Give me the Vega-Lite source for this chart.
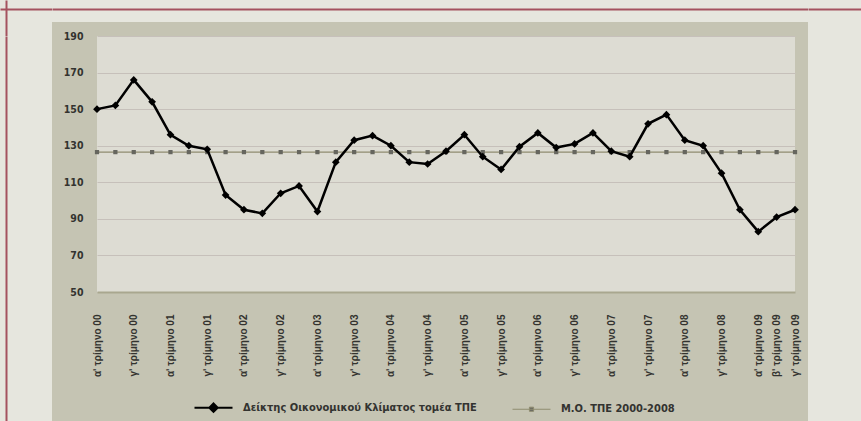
{
  "$schema": "https://vega.github.io/schema/vega-lite/v6.json",
  "background": "#c5c4b3",
  "padding": 0,
  "spacing": -5,
  "config": {
    "view": {"stroke": null},
    "font": "DejaVu Sans Condensed, sans-serif"
  },
  "vconcat": [
    {
      "spacing": 0,
      "hconcat": [
        {
          "data": {"values": []},
          "mark": "point",
          "width": 52,
          "height": 36,
          "view": {"fill": "#e6e6de", "stroke": null},
          "encoding": {
            "x": {"field": "a", "type": "quantitative", "scale": {"domain": [0, 1]}, "axis": {"orient": "top", "offset": -9, "domainColor": "#a4525f", "domainWidth": 2, "labels": false, "ticks": false, "grid": false, "title": null}},
            "y": {"field": "b", "type": "quantitative", "scale": {"domain": [0, 1]}, "axis": {"orient": "left", "offset": -6, "domainColor": "#a4525f", "domainWidth": 2, "labels": false, "ticks": false, "grid": false, "title": null}}
          }
        },
        {
          "data": {"values": []},
          "mark": "point",
          "width": 756,
          "height": 22,
          "view": {"fill": "#e6e6de", "stroke": null},
          "encoding": {
            "x": {"field": "a", "type": "quantitative", "scale": {"domain": [0, 1]}, "axis": {"orient": "top", "offset": -9, "domainColor": "#a4525f", "domainWidth": 2, "labels": false, "ticks": false, "grid": false, "title": null}}
          }
        },
        {
          "data": {"values": []},
          "mark": "point",
          "width": 53,
          "height": 36,
          "view": {"fill": "#e6e6de", "stroke": null},
          "encoding": {
            "x": {"field": "a", "type": "quantitative", "scale": {"domain": [0, 1]}, "axis": {"orient": "top", "offset": -9, "domainColor": "#a4525f", "domainWidth": 2, "labels": false, "ticks": false, "grid": false, "title": null}}
          }
        }
      ]
    },
    {
      "spacing": 8,
      "hconcat": [
        {
          "data": {"values": []},
          "mark": "point",
          "width": 52,
          "height": 385,
          "view": {"fill": "#e6e6de", "stroke": null},
          "encoding": {
            "y": {"field": "b", "type": "quantitative", "scale": {"domain": [0, 1]}, "axis": {"orient": "left", "offset": -6, "domainColor": "#a4525f", "domainWidth": 2, "labels": false, "ticks": false, "grid": false, "title": null}}
          }
        },
        {
          "width": 698,
          "height": 256,
          "view": {"fill": "#dddcd3", "stroke": null},
          "data": {
            "values": [
              {"q": "αʹ τρίμηνο 00", "s": "Δείκτης Οικονομικού Κλίματος τομέα ΤΠΕ", "v": 150},
              {"q": "βʹ τρίμηνο 00", "s": "Δείκτης Οικονομικού Κλίματος τομέα ΤΠΕ", "v": 152},
              {"q": "γʹ τρίμηνο 00", "s": "Δείκτης Οικονομικού Κλίματος τομέα ΤΠΕ", "v": 166},
              {"q": "δʹ τρίμηνο 00", "s": "Δείκτης Οικονομικού Κλίματος τομέα ΤΠΕ", "v": 154},
              {"q": "αʹ τρίμηνο 01", "s": "Δείκτης Οικονομικού Κλίματος τομέα ΤΠΕ", "v": 136},
              {"q": "βʹ τρίμηνο 01", "s": "Δείκτης Οικονομικού Κλίματος τομέα ΤΠΕ", "v": 130},
              {"q": "γʹ τρίμηνο 01", "s": "Δείκτης Οικονομικού Κλίματος τομέα ΤΠΕ", "v": 128},
              {"q": "δʹ τρίμηνο 01", "s": "Δείκτης Οικονομικού Κλίματος τομέα ΤΠΕ", "v": 103},
              {"q": "αʹ τρίμηνο 02", "s": "Δείκτης Οικονομικού Κλίματος τομέα ΤΠΕ", "v": 95},
              {"q": "βʹ τρίμηνο 02", "s": "Δείκτης Οικονομικού Κλίματος τομέα ΤΠΕ", "v": 93},
              {"q": "γʹ τρίμηνο 02", "s": "Δείκτης Οικονομικού Κλίματος τομέα ΤΠΕ", "v": 104},
              {"q": "δʹ τρίμηνο 02", "s": "Δείκτης Οικονομικού Κλίματος τομέα ΤΠΕ", "v": 108},
              {"q": "αʹ τρίμηνο 03", "s": "Δείκτης Οικονομικού Κλίματος τομέα ΤΠΕ", "v": 94},
              {"q": "βʹ τρίμηνο 03", "s": "Δείκτης Οικονομικού Κλίματος τομέα ΤΠΕ", "v": 121},
              {"q": "γʹ τρίμηνο 03", "s": "Δείκτης Οικονομικού Κλίματος τομέα ΤΠΕ", "v": 133},
              {"q": "δʹ τρίμηνο 03", "s": "Δείκτης Οικονομικού Κλίματος τομέα ΤΠΕ", "v": 135.5},
              {"q": "αʹ τρίμηνο 04", "s": "Δείκτης Οικονομικού Κλίματος τομέα ΤΠΕ", "v": 130},
              {"q": "βʹ τρίμηνο 04", "s": "Δείκτης Οικονομικού Κλίματος τομέα ΤΠΕ", "v": 121},
              {"q": "γʹ τρίμηνο 04", "s": "Δείκτης Οικονομικού Κλίματος τομέα ΤΠΕ", "v": 120},
              {"q": "δʹ τρίμηνο 04", "s": "Δείκτης Οικονομικού Κλίματος τομέα ΤΠΕ", "v": 127},
              {"q": "αʹ τρίμηνο 05", "s": "Δείκτης Οικονομικού Κλίματος τομέα ΤΠΕ", "v": 136},
              {"q": "βʹ τρίμηνο 05", "s": "Δείκτης Οικονομικού Κλίματος τομέα ΤΠΕ", "v": 124},
              {"q": "γʹ τρίμηνο 05", "s": "Δείκτης Οικονομικού Κλίματος τομέα ΤΠΕ", "v": 117},
              {"q": "δʹ τρίμηνο 05", "s": "Δείκτης Οικονομικού Κλίματος τομέα ΤΠΕ", "v": 129.5},
              {"q": "αʹ τρίμηνο 06", "s": "Δείκτης Οικονομικού Κλίματος τομέα ΤΠΕ", "v": 137},
              {"q": "βʹ τρίμηνο 06", "s": "Δείκτης Οικονομικού Κλίματος τομέα ΤΠΕ", "v": 129},
              {"q": "γʹ τρίμηνο 06", "s": "Δείκτης Οικονομικού Κλίματος τομέα ΤΠΕ", "v": 131},
              {"q": "δʹ τρίμηνο 06", "s": "Δείκτης Οικονομικού Κλίματος τομέα ΤΠΕ", "v": 137},
              {"q": "αʹ τρίμηνο 07", "s": "Δείκτης Οικονομικού Κλίματος τομέα ΤΠΕ", "v": 127},
              {"q": "βʹ τρίμηνο 07", "s": "Δείκτης Οικονομικού Κλίματος τομέα ΤΠΕ", "v": 124},
              {"q": "γʹ τρίμηνο 07", "s": "Δείκτης Οικονομικού Κλίματος τομέα ΤΠΕ", "v": 142},
              {"q": "δʹ τρίμηνο 07", "s": "Δείκτης Οικονομικού Κλίματος τομέα ΤΠΕ", "v": 147},
              {"q": "αʹ τρίμηνο 08", "s": "Δείκτης Οικονομικού Κλίματος τομέα ΤΠΕ", "v": 133},
              {"q": "βʹ τρίμηνο 08", "s": "Δείκτης Οικονομικού Κλίματος τομέα ΤΠΕ", "v": 130},
              {"q": "γʹ τρίμηνο 08", "s": "Δείκτης Οικονομικού Κλίματος τομέα ΤΠΕ", "v": 115},
              {"q": "δʹ τρίμηνο 08", "s": "Δείκτης Οικονομικού Κλίματος τομέα ΤΠΕ", "v": 95},
              {"q": "αʹ τρίμηνο 09", "s": "Δείκτης Οικονομικού Κλίματος τομέα ΤΠΕ", "v": 83},
              {"q": "βʹ τρίμηνο 09", "s": "Δείκτης Οικονομικού Κλίματος τομέα ΤΠΕ", "v": 91},
              {"q": "γʹ τρίμηνο 09", "s": "Δείκτης Οικονομικού Κλίματος τομέα ΤΠΕ", "v": 95},
              {"q": "αʹ τρίμηνο 00", "s": "Μ.Ο. ΤΠΕ 2000-2008", "v": 126.5},
              {"q": "βʹ τρίμηνο 00", "s": "Μ.Ο. ΤΠΕ 2000-2008", "v": 126.5},
              {"q": "γʹ τρίμηνο 00", "s": "Μ.Ο. ΤΠΕ 2000-2008", "v": 126.5},
              {"q": "δʹ τρίμηνο 00", "s": "Μ.Ο. ΤΠΕ 2000-2008", "v": 126.5},
              {"q": "αʹ τρίμηνο 01", "s": "Μ.Ο. ΤΠΕ 2000-2008", "v": 126.5},
              {"q": "βʹ τρίμηνο 01", "s": "Μ.Ο. ΤΠΕ 2000-2008", "v": 126.5},
              {"q": "γʹ τρίμηνο 01", "s": "Μ.Ο. ΤΠΕ 2000-2008", "v": 126.5},
              {"q": "δʹ τρίμηνο 01", "s": "Μ.Ο. ΤΠΕ 2000-2008", "v": 126.5},
              {"q": "αʹ τρίμηνο 02", "s": "Μ.Ο. ΤΠΕ 2000-2008", "v": 126.5},
              {"q": "βʹ τρίμηνο 02", "s": "Μ.Ο. ΤΠΕ 2000-2008", "v": 126.5},
              {"q": "γʹ τρίμηνο 02", "s": "Μ.Ο. ΤΠΕ 2000-2008", "v": 126.5},
              {"q": "δʹ τρίμηνο 02", "s": "Μ.Ο. ΤΠΕ 2000-2008", "v": 126.5},
              {"q": "αʹ τρίμηνο 03", "s": "Μ.Ο. ΤΠΕ 2000-2008", "v": 126.5},
              {"q": "βʹ τρίμηνο 03", "s": "Μ.Ο. ΤΠΕ 2000-2008", "v": 126.5},
              {"q": "γʹ τρίμηνο 03", "s": "Μ.Ο. ΤΠΕ 2000-2008", "v": 126.5},
              {"q": "δʹ τρίμηνο 03", "s": "Μ.Ο. ΤΠΕ 2000-2008", "v": 126.5},
              {"q": "αʹ τρίμηνο 04", "s": "Μ.Ο. ΤΠΕ 2000-2008", "v": 126.5},
              {"q": "βʹ τρίμηνο 04", "s": "Μ.Ο. ΤΠΕ 2000-2008", "v": 126.5},
              {"q": "γʹ τρίμηνο 04", "s": "Μ.Ο. ΤΠΕ 2000-2008", "v": 126.5},
              {"q": "δʹ τρίμηνο 04", "s": "Μ.Ο. ΤΠΕ 2000-2008", "v": 126.5},
              {"q": "αʹ τρίμηνο 05", "s": "Μ.Ο. ΤΠΕ 2000-2008", "v": 126.5},
              {"q": "βʹ τρίμηνο 05", "s": "Μ.Ο. ΤΠΕ 2000-2008", "v": 126.5},
              {"q": "γʹ τρίμηνο 05", "s": "Μ.Ο. ΤΠΕ 2000-2008", "v": 126.5},
              {"q": "δʹ τρίμηνο 05", "s": "Μ.Ο. ΤΠΕ 2000-2008", "v": 126.5},
              {"q": "αʹ τρίμηνο 06", "s": "Μ.Ο. ΤΠΕ 2000-2008", "v": 126.5},
              {"q": "βʹ τρίμηνο 06", "s": "Μ.Ο. ΤΠΕ 2000-2008", "v": 126.5},
              {"q": "γʹ τρίμηνο 06", "s": "Μ.Ο. ΤΠΕ 2000-2008", "v": 126.5},
              {"q": "δʹ τρίμηνο 06", "s": "Μ.Ο. ΤΠΕ 2000-2008", "v": 126.5},
              {"q": "αʹ τρίμηνο 07", "s": "Μ.Ο. ΤΠΕ 2000-2008", "v": 126.5},
              {"q": "βʹ τρίμηνο 07", "s": "Μ.Ο. ΤΠΕ 2000-2008", "v": 126.5},
              {"q": "γʹ τρίμηνο 07", "s": "Μ.Ο. ΤΠΕ 2000-2008", "v": 126.5},
              {"q": "δʹ τρίμηνο 07", "s": "Μ.Ο. ΤΠΕ 2000-2008", "v": 126.5},
              {"q": "αʹ τρίμηνο 08", "s": "Μ.Ο. ΤΠΕ 2000-2008", "v": 126.5},
              {"q": "βʹ τρίμηνο 08", "s": "Μ.Ο. ΤΠΕ 2000-2008", "v": 126.5},
              {"q": "γʹ τρίμηνο 08", "s": "Μ.Ο. ΤΠΕ 2000-2008", "v": 126.5},
              {"q": "δʹ τρίμηνο 08", "s": "Μ.Ο. ΤΠΕ 2000-2008", "v": 126.5},
              {"q": "αʹ τρίμηνο 09", "s": "Μ.Ο. ΤΠΕ 2000-2008", "v": 126.5},
              {"q": "βʹ τρίμηνο 09", "s": "Μ.Ο. ΤΠΕ 2000-2008", "v": 126.5},
              {"q": "γʹ τρίμηνο 09", "s": "Μ.Ο. ΤΠΕ 2000-2008", "v": 126.5}
            ]
          },
          "encoding": {
            "x": {
              "field": "q",
              "type": "nominal",
              "sort": null,
              "scale": {"type": "point", "padding": 0},
              "axis": {
                "title": null,
                "labelAngle": -90,
                "labelFont": "Liberation Sans, sans-serif",
                "labelFontWeight": "bold",
                "labelFontSize": 10,
                "labelColor": "#33332f",
                "labelPadding": 22,
                "labelOverlap": false,
                "ticks": false,
                "grid": false,
                "domainColor": "#a9a78f",
                "domainWidth": 2,
                "labelExpr": "((indexof(datum.value,'β')==0 && datum.value!='βʹ τρίμηνο 09') || indexof(datum.value,'δ')==0) ? '' : datum.value"
              }
            },
            "y": {
              "field": "v",
              "type": "quantitative",
              "scale": {"domain": [50, 190], "nice": false, "zero": false},
              "axis": {
                "title": null,
                "values": [50, 70, 90, 110, 130, 150, 170, 190],
                "labelFontWeight": "bold",
                "labelFontSize": 10.5,
                "labelColor": "#33332f",
                "labelPadding": 14,
                "minExtent": 37,
                "maxExtent": 37,
                "ticks": false,
                "domain": false,
                "gridColor": "#c6c0ba",
                "gridWidth": 1
              }
            }
          },
          "layer": [
            {
              "transform": [{"filter": "datum.s == 'Μ.Ο. ΤΠΕ 2000-2008'"}],
              "mark": {"type": "line", "strokeWidth": 1.3},
              "encoding": {
                "color": {
                  "field": "s",
                  "type": "nominal",
                  "sort": null,
                  "scale": {"domain": ["Δείκτης Οικονομικού Κλίματος τομέα ΤΠΕ", "Μ.Ο. ΤΠΕ 2000-2008"], "range": ["#000000", "#8f8c70"]},
                  "legend": {
                    "orient": "none",
                    "legendX": 208,
                    "legendY": 402,
                    "direction": "horizontal",
                    "title": null,
                    "labelFont": "DejaVu Sans Condensed, sans-serif",
                    "labelFontWeight": "bold",
                    "labelFontSize": 11,
                    "labelColor": "#333330",
                    "labelLimit": 400,
                    "symbolSize": 1444,
                    "symbolStrokeWidth": 2,
                    "labelOffset": 24,
                    "columnPadding": 33,
                    "symbolType": "M-1,0H1",
                    "encode": {
                      "symbols": {
                        "update": {
                          "shape": {"signal": "datum.value == 'Δείκτης Οικονομικού Κλίματος τομέα ΤΠΕ' ? 'M-1,0H1M0,-0.22L0.22,0L0,0.22L-0.22,0Z' : 'M-1,0H1M-0.11,-0.11H0.11V0.11H-0.11Z'"},
                          "fill": {"signal": "datum.value == 'Δείκτης Οικονομικού Κλίματος τομέα ΤΠΕ' ? '#000000' : '#66665f'"},
                          "stroke": {"signal": "datum.value == 'Δείκτης Οικονομικού Κλίματος τομέα ΤΠΕ' ? '#000000' : '#8f8c70'"},
                          "strokeWidth": {"signal": "datum.value == 'Δείκτης Οικονομικού Κλίματος τομέα ΤΠΕ' ? 2 : 1"},
                          "opacity": {"value": 1}
                        }
                      }
                    }
                  }
                }
              }
            },
            {
              "transform": [{"filter": "datum.s == 'Μ.Ο. ΤΠΕ 2000-2008'"}],
              "mark": {"type": "point", "shape": "square", "filled": true, "size": 18, "color": "#66665f", "opacity": 1}
            },
            {
              "transform": [{"filter": "datum.s == 'Δείκτης Οικονομικού Κλίματος τομέα ΤΠΕ'"}],
              "mark": {"type": "line", "strokeWidth": 2.5},
              "encoding": {
                "color": {"field": "s", "type": "nominal", "sort": null}
              }
            },
            {
              "transform": [{"filter": "datum.s == 'Δείκτης Οικονομικού Κλίματος τομέα ΤΠΕ'"}],
              "mark": {"type": "point", "shape": "diamond", "filled": true, "size": 60, "color": "#000000", "opacity": 1}
            }
          ]
        },
        {
          "data": {"values": []},
          "mark": "point",
          "width": 53,
          "height": 385,
          "view": {"fill": "#e6e6de", "stroke": null}
        }
      ]
    }
  ]
}
